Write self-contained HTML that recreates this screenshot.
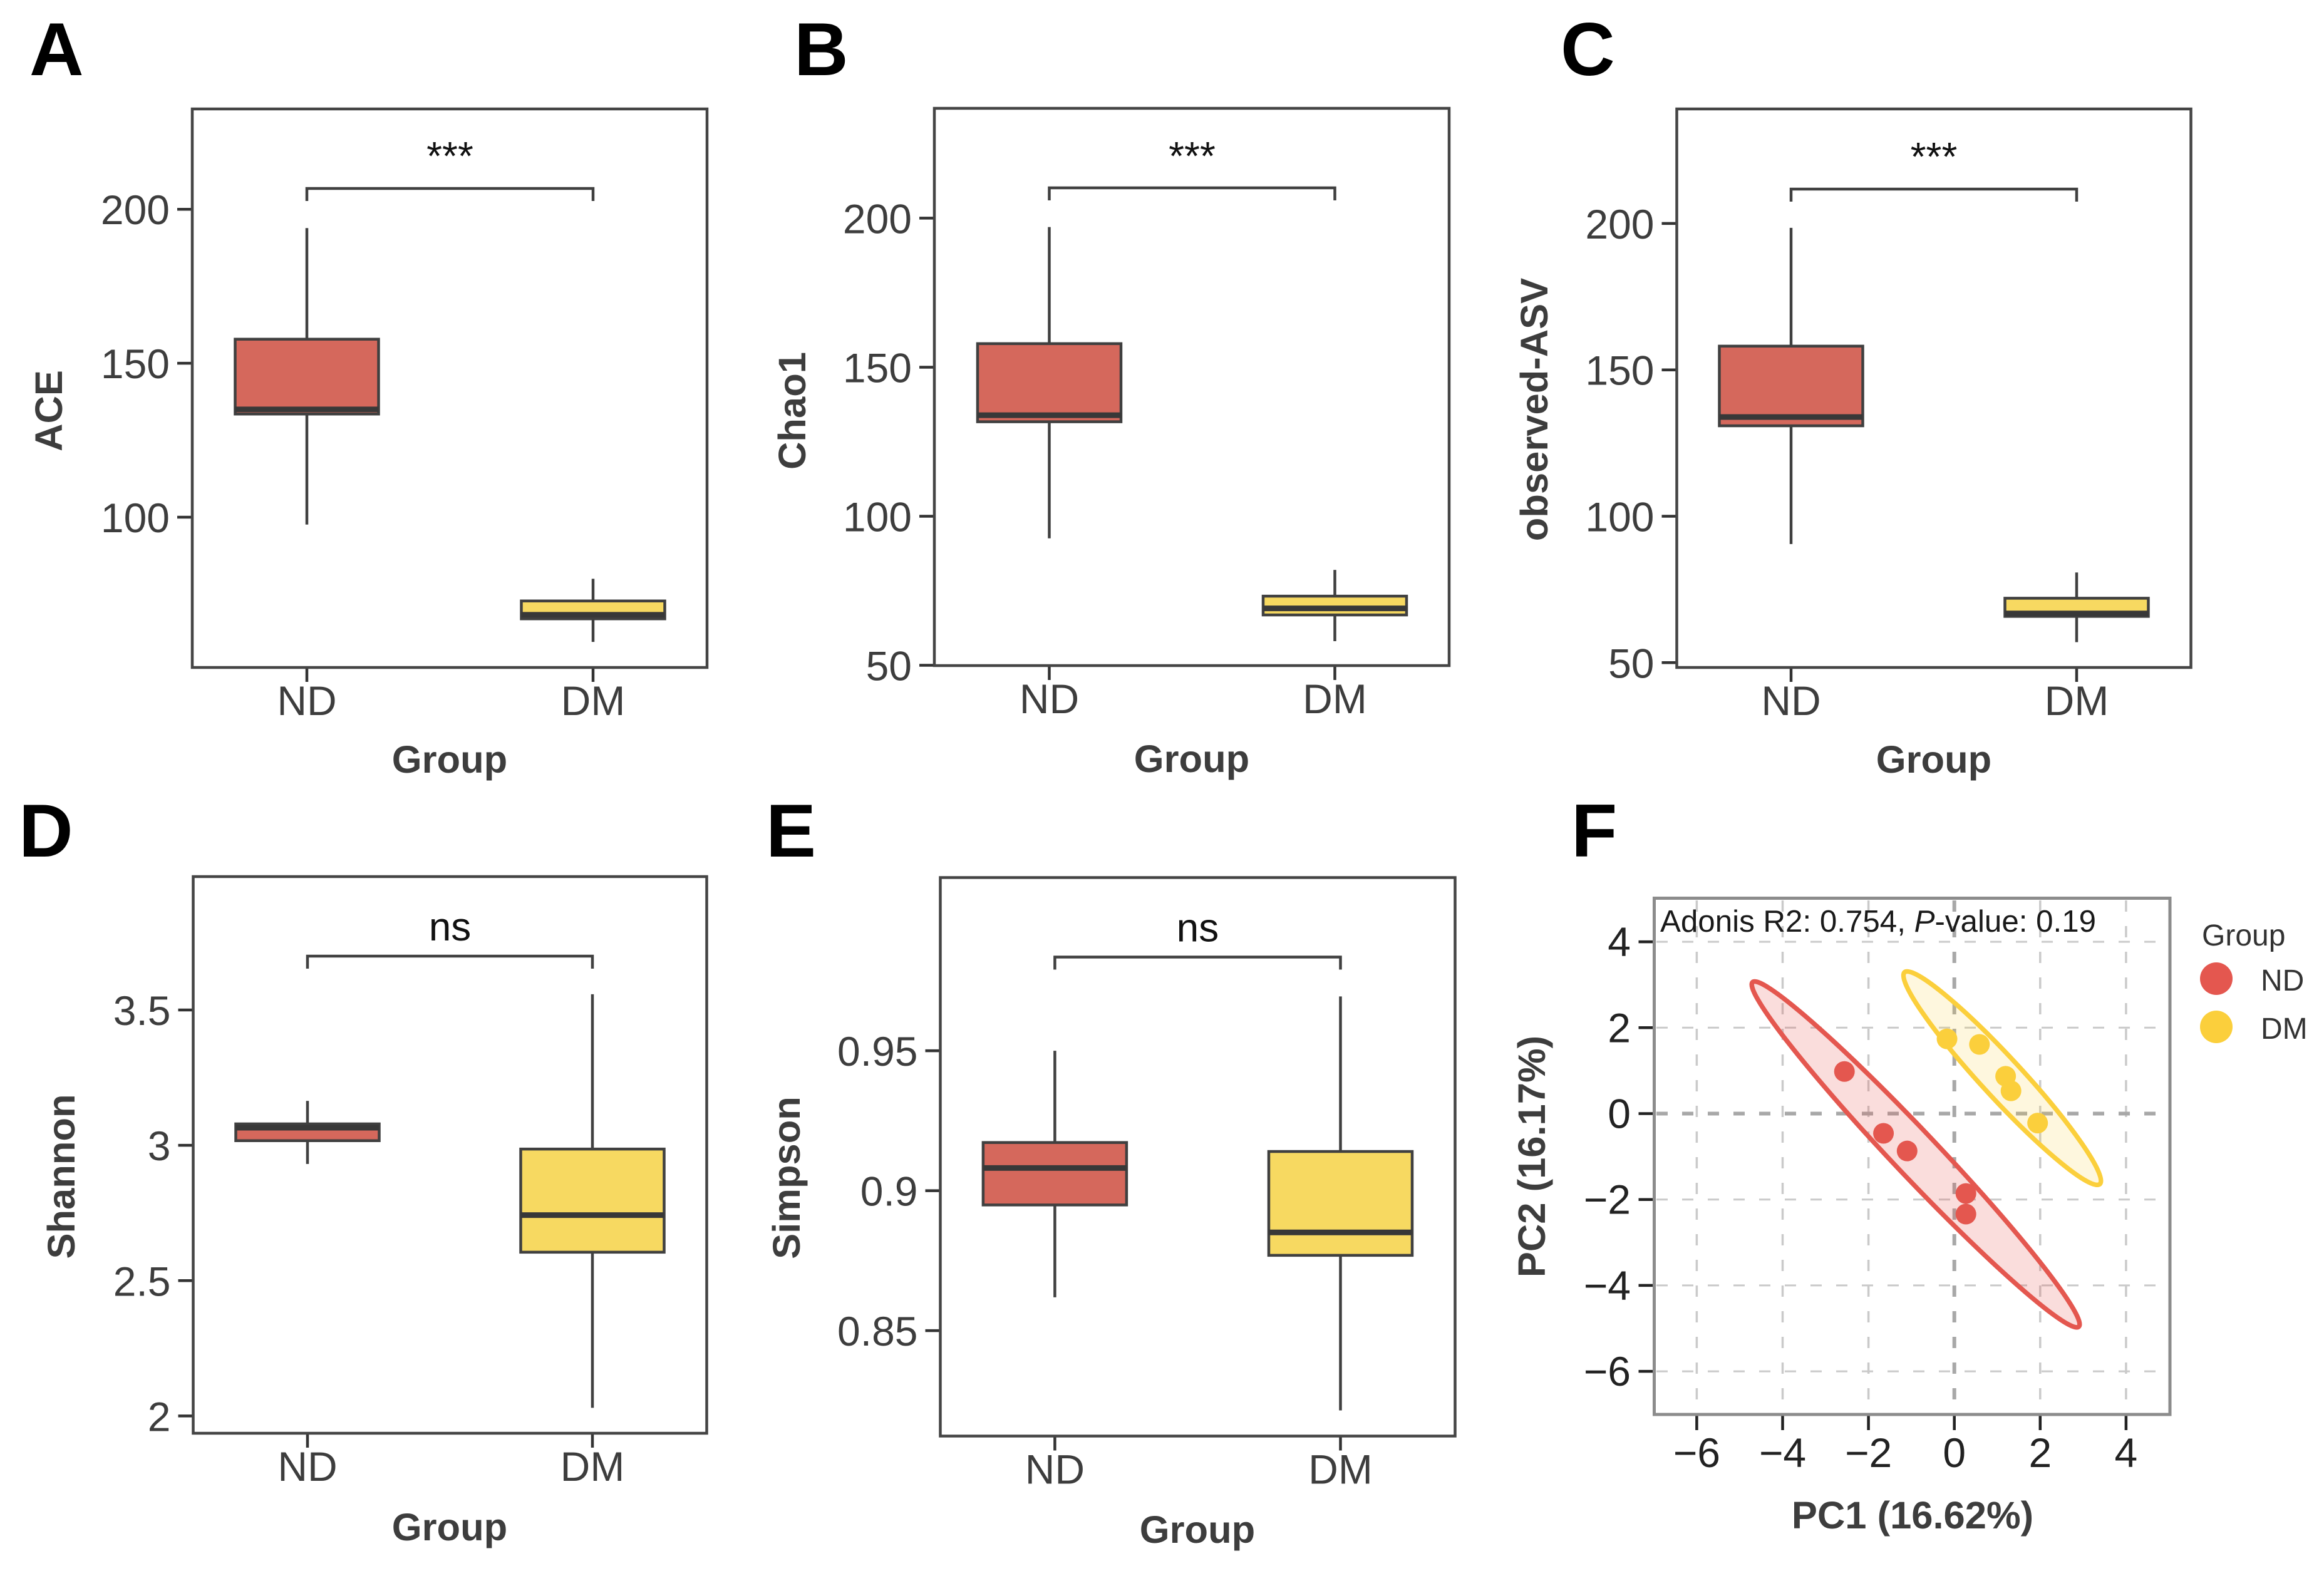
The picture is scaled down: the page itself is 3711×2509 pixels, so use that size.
<!DOCTYPE html>
<html lang="en">
<head>
<meta charset="utf-8">
<title>Alpha diversity and PCoA panels</title>
<style>
html,body{margin:0;padding:0;background:#fff;}
svg{display:block;}
text{font-family:"Liberation Sans",Arial,sans-serif;}
.letter{font-size:120px;font-weight:700;fill:#000;}
.title{font-size:61.5px;font-weight:700;fill:#3d3d3d;text-anchor:middle;}
.tick{font-size:66px;fill:#3d3d3d;}
</style>
</head>
<body>
<svg id="figure" xmlns="http://www.w3.org/2000/svg" width="3711" height="2509" viewBox="0 0 3711 2509">
  <rect x="0" y="0" width="3711" height="2509" fill="#fff"/>

  <text class="letter" x="47" y="120">A</text>
  <text class="letter" x="1268" y="120">B</text>
  <text class="letter" x="2492" y="120">C</text>
  <text class="letter" x="30" y="1368">D</text>
  <text class="letter" x="1223" y="1368">E</text>
  <text class="letter" x="2509" y="1368">F</text>

  <text class="title" transform="translate(99 656) rotate(-90)">ACE</text>
  <text class="title" transform="translate(1286 656) rotate(-90)">Chao1</text>
  <text class="title" transform="translate(2471 654) rotate(-90)">observed-ASV</text>
  <text class="title" transform="translate(119 1879) rotate(-90)">Shannon</text>
  <text class="title" transform="translate(1277 1881) rotate(-90)">Simpson</text>
  <text class="title" transform="translate(2467 1847) rotate(-90)">PC2 (16.17%)</text>

  <text class="title" x="718" y="1234">Group</text>
  <text class="title" x="1903" y="1233">Group</text>
  <text class="title" x="3088" y="1234">Group</text>
  <text class="title" x="718" y="2460">Group</text>
  <text class="title" x="1912" y="2464">Group</text>
  <text class="title" x="3054" y="2441">PC1 (16.62%)</text>

  <g id="box-layer"></g>
  <g id="pca-layer"></g>

  <text x="2651" y="1488" font-size="49.3" fill="#1a1a1a">Adonis R2: 0.754, <tspan font-style="italic">P</tspan>-value: 0.19</text>

  <g>
    <text x="3516" y="1510" font-size="48" fill="#333">Group</text>
    <circle cx="3539" cy="1563" r="26" fill="#E4574F"/>
    <text x="3610" y="1582" font-size="48" fill="#333">ND</text>
    <circle cx="3539" cy="1640" r="26" fill="#FBCF3C"/>
    <text x="3610" y="1659" font-size="48" fill="#333">DM</text>
  </g>
</svg>

<script>
// ---------- chart data ----------
const groups = ['ND', 'DM'];

// five-number summaries: [low whisker, Q1, median, Q3, high whisker]
const aceND = [97.6, 133.5, 135, 157.8, 193.9];
const aceDM = [59.5, 67, 68.3, 72.8, 80];
const chaoND = [92.6, 131.7, 133.9, 157.9, 197];
const chaoDM = [58.1, 66.9, 69.1, 73.2, 82];
const asvND = [90.5, 130.9, 133.9, 158.1, 198.5];
const asvDM = [57, 65.8, 66.8, 72, 80.8];
const shannonND = [2.931, 3.017, 3.065, 3.079, 3.164];
const shannonDM = [2.03, 2.605, 2.742, 2.986, 3.558];
const simpsonND = [0.8619, 0.8949, 0.9081, 0.9172, 0.95];
const simpsonDM = [0.8215, 0.8769, 0.8851, 0.914, 0.9694];

const aceTicks = [100, 150, 200];
const chaoTicks = [50, 100, 150, 200];
const asvTicks = [50, 100, 150, 200];
const shannonTicks = [2, 2.5, 3, 3.5];
const simpsonTicks = [0.85, 0.9, 0.95];

// PCoA points
const ndPC1 = [-2.56, -1.65, -1.10, 0.27, 0.27];
const ndPC2 = [0.98, -0.46, -0.87, -1.86, -2.34];
const dmPC1 = [-0.17, 0.585, 1.195, 1.32, 1.94];
const dmPC2 = [1.74, 1.61, 0.87, 0.53, -0.22];

// ellipse tips (PC1, PC2) and half-width in PC units
const ndEllipseTips = [-4.7, 3.06, 2.9, -4.96];
const dmEllipseTips = [-1.16, 3.29, 3.39, -1.64];
const ellipseHalfWidth = [0.52, 0.47];

const pc1Ticks = [-6, -4, -2, 0, 2, 4];
const pc2Ticks = [-6, -4, -2, 0, 2, 4];

// ---------- layout ----------
const NS = 'http://www.w3.org/2000/svg';
function add(parent, tag, attrs, text) {
  const node = document.createElementNS(NS, tag);
  for (const k in attrs) node.setAttribute(k, attrs[k]);
  if (text !== undefined) node.textContent = text;
  parent.appendChild(node);
  return node;
}

const boxLayer = document.getElementById('box-layer');
const pcaLayer = document.getElementById('pca-layer');
const INK = '#404040';
const fills = ['#D5685C', '#F7D961'];

const boxPanels = [
  { key: 'ace', nd: aceND, dm: aceDM, ticks: aceTicks, sig: '***',
    left: 307, right: 1129, top: 174, bottom: 1066, x0: 490, x1: 947,
    anchorValue: 100, anchorPx: 826, pxPerUnit: 4.918, bracketPx: 301, sigPx: 271 },
  { key: 'chao1', nd: chaoND, dm: chaoDM, ticks: chaoTicks, sig: '***',
    left: 1492, right: 2314, top: 173, bottom: 1063, x0: 1675.5, x1: 2131.5,
    anchorValue: 100, anchorPx: 824.5, pxPerUnit: 4.761, bracketPx: 300, sigPx: 271 },
  { key: 'observed-asv', nd: asvND, dm: asvDM, ticks: asvTicks, sig: '***',
    left: 2677.5, right: 3498.5, top: 174, bottom: 1066, x0: 2860, x1: 3316,
    anchorValue: 100, anchorPx: 824.5, pxPerUnit: 4.676, bracketPx: 302, sigPx: 272 },
  { key: 'shannon', nd: shannonND, dm: shannonDM, ticks: shannonTicks, sig: 'ns',
    left: 308.5, right: 1128.5, top: 1400, bottom: 2289, x0: 491, x1: 946,
    anchorValue: 2, anchorPx: 2261.4, pxPerUnit: 432.3, bracketPx: 1527, sigPx: 1502 },
  { key: 'simpson', nd: simpsonND, dm: simpsonDM, ticks: simpsonTicks, sig: 'ns',
    left: 1501.5, right: 2323.5, top: 1401.5, bottom: 2293.5, x0: 1684.4, x1: 2140.5,
    anchorValue: 0.9, anchorPx: 1901.6, pxPerUnit: 4470, bracketPx: 1528.5, sigPx: 1503.5 }
];
const BOX_HALF = 114.5;

boxPanels.forEach(function (p) {
  const yScale = function (v) { return p.anchorPx - (v - p.anchorValue) * p.pxPerUnit; };
  const xScale = function (i) { return p.x0 + i * (p.x1 - p.x0); };

  const g = add(boxLayer, 'g', {});
  
  

  p.ticks.forEach(function (t) {
    const mark = add(g, 'line', { x1: p.left - 24, x2: p.left, y1: yScale(t), y2: yScale(t), stroke: '#333', 'stroke-width': 4.5 });
    
    
    const lab = add(g, 'text', { x: p.left - 36, y: yScale(t) + 24, 'text-anchor': 'end', class: 'tick' }, String(t));
    
    
  });

  groups.forEach(function (name, i) {
    const cx = xScale(i);
    const mark = add(g, 'line', { x1: cx, x2: cx, y1: p.bottom, y2: p.bottom + 23, stroke: '#333', 'stroke-width': 4.5 });
    
    
    const lab = add(g, 'text', { x: cx, y: p.bottom + 76, 'text-anchor': 'middle', class: 'tick' }, name);
    
    

    const s = i === 0 ? p.nd : p.dm;
    const upper = add(g, 'line', { x1: cx, x2: cx, y1: yScale(s[4]), y2: yScale(s[3]), stroke: INK, 'stroke-width': 4.5 });
    
    
    const lower = add(g, 'line', { x1: cx, x2: cx, y1: yScale(s[1]), y2: yScale(s[0]), stroke: INK, 'stroke-width': 4.5 });
    
    
    const box = add(g, 'rect', { x: cx - BOX_HALF, width: BOX_HALF * 2, y: yScale(s[3]), height: yScale(s[1]) - yScale(s[3]), fill: fills[i], stroke: INK, 'stroke-width': 4.5 });
    
    
    const med = add(g, 'line', { x1: cx - BOX_HALF, x2: cx + BOX_HALF, y1: yScale(s[2]), y2: yScale(s[2]), stroke: '#383838', 'stroke-width': 9 });
    
    
  });

  const bracket = add(g, 'path', {
    d: 'M' + xScale(0) + ' ' + (p.bracketPx + 20) + 'V' + p.bracketPx + 'H' + xScale(1) + 'V' + (p.bracketPx + 20),
    fill: 'none', stroke: INK, 'stroke-width': 4.5
  });
  
  
  const sig = add(g, 'text', { x: (xScale(0) + xScale(1)) / 2, y: p.sigPx, 'text-anchor': 'middle', 'font-size': p.sig === 'ns' ? 64 : 64, fill: '#111' }, p.sig);
  
  

  const frame = add(g, 'rect', { x: p.left, y: p.top, width: p.right - p.left, height: p.bottom - p.top, fill: 'none', stroke: '#454545', 'stroke-width': 4.5 });
  
  
});

// ---------- panel F ----------
const pcFrame = { left: 2641.5, right: 3465, top: 1434.5, bottom: 2259 };
const pcX = function (v) { return 3120.7 + v * 68.55; };
const pcY = function (v) { return 1778.5 - v * 68.6; };
const pcRed = '#E4574F';
const pcYellow = '#FBCF3C';

pc1Ticks.forEach(function (t) {
  const isZero = t === 0;
  const line = add(pcaLayer, 'line', { x1: pcX(t), x2: pcX(t), y1: 1438, y2: 2250, stroke: isZero ? '#a8a8a8' : '#cacaca', 'stroke-width': isZero ? 6 : 3.5, 'stroke-dasharray': '18 23' });
  
  
  const mark = add(pcaLayer, 'line', { x1: pcX(t), x2: pcX(t), y1: pcFrame.bottom, y2: pcFrame.bottom + 25, stroke: '#222', 'stroke-width': 4.5 });
  
  
  const lab = add(pcaLayer, 'text', { x: pcX(t), y: 2343, 'text-anchor': 'middle', 'font-size': 66, fill: '#222' }, String(t).replace('-', '\u2212'));
  
  
});
pc2Ticks.forEach(function (t) {
  const isZero = t === 0;
  const line = add(pcaLayer, 'line', { x1: 2645, x2: 3448, y1: pcY(t), y2: pcY(t), stroke: isZero ? '#a8a8a8' : '#cacaca', 'stroke-width': isZero ? 6 : 3, 'stroke-dasharray': '18 23' });
  
  
  const mark = add(pcaLayer, 'line', { x1: pcFrame.left - 25, x2: pcFrame.left, y1: pcY(t), y2: pcY(t), stroke: '#222', 'stroke-width': 4.5 });
  
  
  const lab = add(pcaLayer, 'text', { x: 2604, y: pcY(t) + 23, 'text-anchor': 'end', 'font-size': 66, fill: '#222' }, String(t).replace('-', '\u2212'));
  
  
});

function drawEllipse(tips, halfWidth, stroke, fill, name) {
  const x1 = pcX(tips[0]), y1 = pcY(tips[1]), x2 = pcX(tips[2]), y2 = pcY(tips[3]);
  const cx = (x1 + x2) / 2, cy = (y1 + y2) / 2;
  const rx = Math.hypot(x2 - x1, y2 - y1) / 2;
  const angle = Math.atan2(y2 - y1, x2 - x1) * 180 / Math.PI;
  const el = add(pcaLayer, 'ellipse', { cx: cx, cy: cy, rx: rx, ry: halfWidth * 68.6, fill: fill, stroke: stroke, 'stroke-width': 7.5, transform: 'rotate(' + angle + ' ' + cx + ' ' + cy + ')' });
  
  
}
drawEllipse(ndEllipseTips, ellipseHalfWidth[0], pcRed, 'rgba(228,87,79,0.2)', 'ellipse-nd');
drawEllipse(dmEllipseTips, ellipseHalfWidth[1], pcYellow, 'rgba(251,207,60,0.17)', 'ellipse-dm');

ndPC1.forEach(function (v, i) {
  const pt = add(pcaLayer, 'circle', { cx: pcX(v), cy: pcY(ndPC2[i]), r: 16.5, fill: pcRed });
  
  
});
dmPC1.forEach(function (v, i) {
  const pt = add(pcaLayer, 'circle', { cx: pcX(v), cy: pcY(dmPC2[i]), r: 16.5, fill: pcYellow });
  
  
});

const pcBorder = add(pcaLayer, 'rect', { x: pcFrame.left, y: pcFrame.top, width: pcFrame.right - pcFrame.left, height: pcFrame.bottom - pcFrame.top, fill: 'none', stroke: '#8c8c8c', 'stroke-width': 5 });


</script>
</body>
</html>
